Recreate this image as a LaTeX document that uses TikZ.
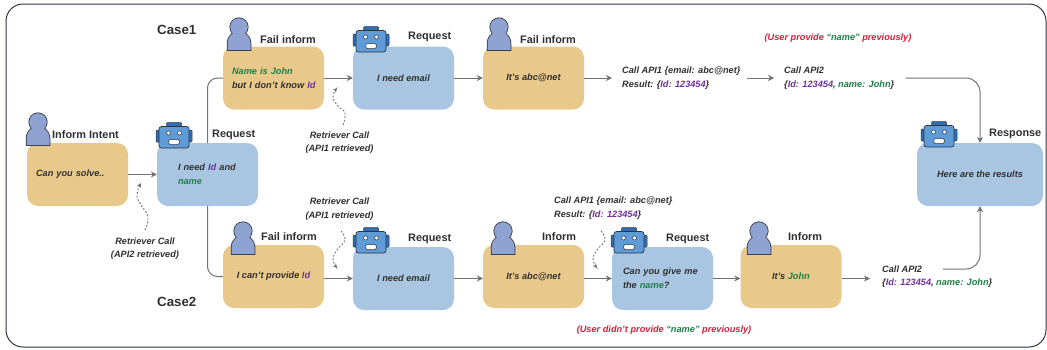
\documentclass[tikz,border=0pt]{standalone}
\usepackage{fontspec}
\setmainfont{Liberation Sans}
\usetikzlibrary{arrows.meta}
\definecolor{orangebox}{HTML}{E9C98B}
\definecolor{bluebox}{HTML}{A8C6E2}
\definecolor{botface}{HTML}{5F9BD6}
\definecolor{botcap}{HTML}{2F6DB5}
\definecolor{personfill}{HTML}{8FA3D3}
\definecolor{edgedark}{HTML}{2E3440}
\definecolor{txt}{HTML}{303030}
\definecolor{linegray}{HTML}{707070}
\definecolor{idpurple}{HTML}{7030A0}
\definecolor{namegreen}{HTML}{1E7F45}
\definecolor{notered}{HTML}{D6203A}
\newcommand{\idw}[1]{\textcolor{idpurple}{#1}}
\newcommand{\nmw}[1]{\textcolor{namegreen}{#1}}
\tikzset{
  x=1pt,y=-1pt,
  box/.style={rounded corners=11pt,minimum height=63pt,minimum width=101pt,inner sep=0pt,
    font=\fontsize{9.2}{13.6}\selectfont\bfseries\itshape,text=txt,align=center},
  userbox/.style={box,fill=orangebox},
  botbox/.style={box,fill=bluebox},
  role/.style={font=\fontsize{10.9}{13}\selectfont\bfseries,text=txt,inner sep=0pt},
  casename/.style={font=\fontsize{13.3}{15}\selectfont\bfseries,text=txt,inner sep=0pt},
  note/.style={font=\fontsize{9.2}{13.4}\selectfont\bfseries\itshape,text=txt,inner sep=0pt,align=left},
  centernote/.style={note,align=center},
  rednote/.style={note,text=notered},
  flow/.style={draw=linegray,line width=1pt,-{Stealth[length=6pt,width=6pt]}},
  trunk/.style={draw=linegray,line width=1pt,rounded corners=10pt},
  retr/.style={draw=linegray,line width=0.9pt,dash pattern=on 1.8pt off 1.8pt,-{Stealth[length=4.5pt,width=4.5pt]}},
  personicon/.pic={
    \path[draw=edgedark,line width=1.5pt]
      (-11.5,0) -- (-11.5,-7) .. controls (-11.5,-12) and (-8,-15) .. (-6,-17)
      -- (6,-17) .. controls (8,-15) and (11.5,-12) .. (11.5,-7) -- (11.5,0) -- cycle;
    \path[draw=edgedark,line width=1.5pt] (0,-23) circle (8.8pt);
    \fill[personfill]
      (-11.5,0) -- (-11.5,-7) .. controls (-11.5,-12) and (-8,-15) .. (-6,-17)
      -- (6,-17) .. controls (8,-15) and (11.5,-12) .. (11.5,-7) -- (11.5,0) -- cycle;
    \fill[personfill] (0,-23) circle (8.8pt);
  },
  boticon/.pic={
    \draw[fill=botcap,draw=edgedark,line width=0.5pt,rounded corners=1pt] (-7.5,-20) rectangle (7.5,-25.5);
    \draw[fill=botcap,draw=edgedark,line width=0.5pt,rounded corners=1pt] (-18,-18) rectangle (-14,-6);
    \draw[fill=botcap,draw=edgedark,line width=0.5pt,rounded corners=1pt] (18,-18) rectangle (14,-6);
    \draw[fill=botface,draw=edgedark,line width=0.7pt,rounded corners=2.5pt] (-15,-21.5) rectangle (15,0);
    \draw[fill=white,draw=edgedark,line width=0.5pt] (-5.5,-15) circle (2pt);
    \draw[fill=white,draw=edgedark,line width=0.5pt] (5.5,-15) circle (2pt);
    \draw[fill=white,draw=edgedark,line width=0.5pt,rounded corners=1.5pt] (-5.5,-8.5) rectangle (5.5,-3.5);
  },
}
\begin{document}
\begin{tikzpicture}
\useasboundingbox (0,0) rectangle (1047,349);
\draw[draw=edgedark,line width=1pt,rounded corners=17pt] (6,4) rectangle (1046,347);

% boxes
\node[userbox,text width=83pt,align=left] (intent) at (77.5,174.5) {Can you solve..};
\node[botbox,text width=59pt,align=left] (reqa) at (207.5,174.5) {I need \idw{Id} and\\\nmw{name}};
\node[userbox,text width=83pt,align=left] (faila) at (273.5,78) {\nmw{Name is John}\\\mbox{but I don't know \idw{Id}}};
\node[botbox] (reqb) at (403.5,78) {I need email};
\node[userbox] (failb) at (533.5,78) {It's abc@net};
\node[userbox] (failc) at (273.5,276.5) {I can't provide \idw{Id}};
\node[botbox] (reqc) at (403.5,278.5) {I need email};
\node[userbox] (infa) at (533.5,276.5) {It's abc@net};
\node[botbox,text width=79pt,align=left] (reqd) at (662.5,278.5) {Can you give me\\the \nmw{name}?};
\node[userbox] (infb) at (791,276.5) {It's \nmw{John}};
\node[botbox,minimum width=126pt] (resp) at (980,174.5) {Here are the results};

% icons
\pic at (38,145) {personicon};
\pic at (239,50) {personicon};
\pic at (499,50) {personicon};
\pic at (243,254) {personicon};
\pic at (503,254) {personicon};
\pic at (759,254) {personicon};
\pic at (174,148) {boticon};
\pic at (371,52) {boticon};
\pic at (371,253) {boticon};
\pic at (629,253) {boticon};
\pic at (939,147) {boticon};

% role labels
\node[role,anchor=west] (la) at (52,135) {Inform Intent};
\node[role,anchor=west] (lb) at (212,135) {Request};
\node[role,anchor=west] (lc) at (260,40) {Fail inform};
\node[role,anchor=west] (ld) at (408,37) {Request};
\node[role,anchor=west] (le) at (520,40) {Fail inform};
\node[role,anchor=west] (lf) at (261,237) {Fail inform};
\node[role,anchor=west] (lg) at (408,239) {Request};
\node[role,anchor=west] (lh) at (542,237) {Inform};
\node[role,anchor=west] (li) at (666,239) {Request};
\node[role,anchor=west] (lj) at (788,237) {Inform};
\node[role,anchor=west] (lk) at (989,134) {Response};
\node[casename,anchor=west] (casea) at (157,30) {Case1};
\node[casename,anchor=west] (caseb) at (157,302) {Case2};

% notes
\node[centernote] (rone) at (145,248.5) {Retriever Call\\(API2 retrieved)};
\node[centernote] (rtwo) at (339.5,142.5) {Retriever Call\\(API1 retrieved)};
\node[centernote] (rthree) at (339.5,209) {Retriever Call\\(API1 retrieved)};
\node[note,anchor=west] (callone) at (622,78) {Call API1 \{email: abc@net\}\\Result: \{\idw{Id: 123454}\}};
\node[note,anchor=west] (calltwo) at (784,78) {Call API2\\\{\idw{Id: 123454}, \nmw{name: John}\}};
\node[note,anchor=west] (callthree) at (554,208) {Call API1 \{email: abc@net\}\\Result: \{\idw{Id: 123454}\}};
\node[note,anchor=west] (callfour) at (882,276.5) {Call API2\\\{\idw{Id: 123454}, \nmw{name: John}\}};
\node[rednote] (redone) at (838,38) {(User provide \nmw{“name”} previously)};
\node[rednote] (redtwo) at (664,330) {(User didn't provide \nmw{“name”} previously)};

% connectors
\draw[flow] (intent) -- (reqa);
\draw[trunk] (reqa.north) |- (faila.west);
\draw[trunk] (reqa.south) |- (failc.west);
\draw[flow] (faila) -- (reqb);
\draw[flow] (reqb) -- (failb);
\draw[flow,shorten >=10pt] (failb) -- (callone);
\draw[flow,shorten <=6pt,shorten >=10pt] (callone) -- (calltwo);
\draw[flow,rounded corners=14pt,shorten <=11pt] (calltwo.east) -| (resp.north);
\draw[flow] (failc.east |- reqc.west) -- (reqc.west);
\draw[flow] (reqc.east) -- (infa.west |- reqc.east);
\draw[flow] (infa.east |- reqd.west) -- (reqd.west);
\draw[flow] (reqd.east) -- (infb.west |- reqd.east);
\draw[flow,shorten >=12pt] (infb.east |- reqd.east) -- (callfour.west |- reqd.east);
\coordinate (fourout) at (943,269);
\draw[flow,rounded corners=14pt] (fourout) -| (resp.south);

% retriever calls
\draw[retr] plot[smooth,tension=0.8] coordinates {(145,230) (148,217) (141,205) (137,195) (141,183)};
\draw[retr] plot[smooth,tension=0.8] coordinates {(343,125) (345,113) (338,106) (333,97) (337,88)};
\draw[retr] plot[smooth,tension=0.8] coordinates {(341,231) (345,240) (337,250) (333,259) (337,268)};
\draw[retr] plot[smooth,tension=0.8] coordinates {(601,231) (605,240) (597,250) (593,259) (597,268)};
\end{tikzpicture}
\end{document}
